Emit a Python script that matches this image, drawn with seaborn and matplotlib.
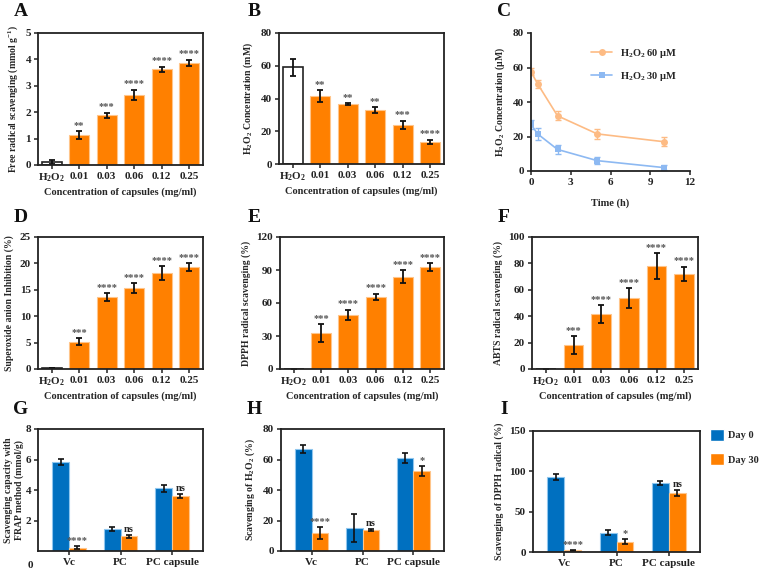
import numpy as np
import pandas as pd
import matplotlib
matplotlib.use("Agg")
import matplotlib.pyplot as plt
import seaborn as sns

sns.set_theme(style="white")
plt.rcParams['font.family'] = ['Liberation Serif', 'DejaVu Serif']
plt.rcParams['font.weight'] = 'bold'
plt.rcParams['axes.labelweight'] = 'bold'
plt.rcParams['mathtext.fontset'] = 'custom'
plt.rcParams['mathtext.rm'] = 'Liberation Serif:bold'
plt.rcParams['mathtext.it'] = 'Liberation Serif:bold'
plt.rcParams['mathtext.bf'] = 'Liberation Serif:bold'
plt.rcParams['mathtext.default'] = 'rm'

# ---------------- data ----------------
conc_labels = ["H$_2$O$_2$", "0.01", "0.03", "0.06", "0.12", "0.25"]

a_vals = [0.12, 1.13, 1.88, 2.65, 3.62, 3.87]
a_err = [0.08, 0.15, 0.10, 0.20, 0.10, 0.12]
a_sig = ["", "**", "***", "****", "****", "****"]

b_vals = [59.0, 41.5, 36.5, 33.0, 24.0, 13.5]
b_err = [5.0, 3.5, 0.7, 1.7, 2.5, 1.3]
b_sig = ["", "**", "**", "**", "***", "****"]

c_time = [0, 0.5, 2, 5, 10]
c_60 = [57.5, 50.5, 32.0, 21.5, 17.0]
c_60_err = [2.0, 2.5, 2.5, 3.0, 2.5]
c_30 = [27.0, 21.5, 12.5, 6.0, 2.0]
c_30_err = [2.5, 3.5, 2.5, 2.0, 1.5]

d_vals = [0.1, 5.2, 13.6, 15.3, 18.2, 19.3]
d_err = [0.0, 0.7, 0.8, 0.9, 1.3, 0.7]
d_sig = ["", "***", "****", "****", "****", "****"]

e_vals = [0.0, 33.0, 49.5, 65.5, 84.0, 92.5]
e_err = [0.0, 8.0, 4.5, 3.0, 6.0, 3.5]
e_sig = ["", "***", "****", "****", "****", "****"]

f_vals = [0.3, 18.0, 41.5, 53.5, 78.0, 72.0]
f_err = [0.0, 7.0, 7.0, 7.5, 10.0, 5.5]
f_sig = ["", "***", "****", "****", "****", "****"]

groups = ["Vc", "PC", "PC capsule"]
days = ["Day 0", "Day 30"]

g_day0 = [5.85, 1.45, 4.10]
g_day0_err = [0.20, 0.15, 0.20]
g_day30 = [0.22, 0.97, 3.62]
g_day30_err = [0.10, 0.10, 0.15]
g_sig = ["****", "ns", "ns"]

h_day0 = [67.0, 15.0, 61.0]
h_day0_err = [2.5, 9.0, 3.0]
h_day30 = [12.0, 14.0, 52.5]
h_day30_err = [4.0, 0.7, 3.5]
h_sig = ["****", "ns", "*"]

i_day0 = [93.0, 24.0, 85.0]
i_day0_err = [4.0, 3.0, 2.5]
i_day30 = [2.0, 13.0, 73.0]
i_day30_err = [1.0, 3.5, 3.5]
i_sig = ["****", "*", "ns"]

ORANGE = "#FF8000"
BLUE = "#0070C0"
W, H = 765, 572

fig = plt.figure(figsize=(W / 100, H / 100), dpi=100)


def make_ax(l, t, r, b):
    return fig.add_axes([l / W, 1 - b / H, (r - l) / W, (b - t) / H])


def style_ax(ax, box=True):
    for s in ax.spines.values():
        s.set_linewidth(1.3)
        s.set_color("#222222")
    if not box:
        ax.spines['top'].set_visible(False)
        ax.spines['right'].set_visible(False)
    ax.tick_params(axis='both', direction='out', length=3, width=1.1,
                   labelsize=8, colors="#222222", pad=2,
                   left=True, bottom=True)
    for lab in ax.get_xticklabels() + ax.get_yticklabels():
        lab.set_fontweight('bold')


def bar_panel(ax, vals, errs, sigs, ylabel, yticks, ylim):
    df = pd.DataFrame({"conc": conc_labels, "val": vals})
    pal = {c: ORANGE for c in conc_labels}
    pal[conc_labels[0]] = "white"
    sns.barplot(data=df, x="conc", y="val", hue="conc", palette=pal,
                legend=False, ax=ax, width=0.72, saturation=1)
    for i, p in enumerate(ax.patches):
        if i == 0:
            p.set_edgecolor("#222222")
            p.set_linewidth(1.2)
        else:
            p.set_edgecolor("#FFC58A")
            p.set_linewidth(0.8)
    x = np.arange(len(vals))
    ax.errorbar(x, vals, yerr=errs, fmt='none', ecolor='#111111',
                elinewidth=1.3, capsize=2.5, capthick=1.3)
    span = ylim[1] - ylim[0]
    for xi, v, e, s in zip(x, vals, errs, sigs):
        if s:
            ax.text(xi, v + e + span * 0.01, s, ha='center', va='bottom',
                    fontsize=7.5, color='#555555')
    ax.set_xlim(-0.5, len(vals) - 0.5)
    ax.set_ylim(*ylim)
    ax.set_yticks(yticks)
    ax.set_xlabel("Concentration of capsules (mg/ml)", fontsize=7.5,
                  labelpad=2)
    ax.set_ylabel(ylabel, fontsize=7, labelpad=4)
    style_ax(ax)


def group_panel(ax, d0, d0e, d30, d30e, sigs, ylabel, yticks, ylim,
                legend=False, ylabelpad=4):
    df = pd.DataFrame({
        "group": groups * 2,
        "day": [days[0]] * 3 + [days[1]] * 3,
        "val": d0 + d30,
    })
    sns.barplot(data=df, x="group", y="val", hue="day", hue_order=days,
                palette={days[0]: BLUE, days[1]: ORANGE}, ax=ax,
                width=0.65, saturation=1, legend=legend)
    edge = {0: "#8FC6EE", 1: "#FFC58A"}
    errs = [d0e, d30e]
    valsl = [d0, d30]
    span = ylim[1] - ylim[0]
    bar_conts = list(ax.containers)[:2]
    for k, cont in enumerate(bar_conts):
        xs = [b.get_x() + b.get_width() / 2 for b in cont.patches]
        for b in cont.patches:
            b.set_edgecolor(edge[k])
            b.set_linewidth(0.8)
        ax.errorbar(xs, valsl[k], yerr=errs[k], fmt='none', ecolor='#111111',
                    elinewidth=1.2, capsize=2.5, capthick=1.2)
        if k == 1:
            for xi, v, e, s in zip(xs, valsl[k], errs[k], sigs):
                ax.text(xi, v + e + span * 0.008, s, ha='center', va='bottom',
                        fontsize=7.5, color='#555555' if '*' in s else '#222222')
    ax.set_xlim(-0.6, 2.6)
    ax.set_ylim(*ylim)
    ax.set_yticks(yticks)
    ax.set_xlabel("")
    ax.set_ylabel(ylabel, fontsize=7, labelpad=ylabelpad)
    style_ax(ax)
    if legend:
        ax.legend(loc='upper left', bbox_to_anchor=(1.06, 1.02), frameon=False,
                  borderaxespad=0, borderpad=0,
                  handlelength=1.3, handleheight=1.5,
                  labelspacing=1.1, handletextpad=0.4,
                  prop={'weight': 'bold', 'size': 7.5})


# ---------------- A ----------------
axA = make_ax(38, 33, 203, 165)
bar_panel(axA, a_vals, a_err, a_sig, "Free radical scavenging (mmol g$^{-1}$)",
          [0, 1, 2, 3, 4, 5], (0, 5))

# ---------------- B ----------------
axB = make_ax(279, 33, 444, 164)
bar_panel(axB, b_vals, b_err, b_sig, "H$_2$O$_2$ Concentration (mM)",
          [0, 20, 40, 60, 80], (0, 80))

# ---------------- C ----------------
axC = make_ax(531, 33, 690, 171)
s60 = "H$_2$O$_2$ 60 μM"
s30 = "H$_2$O$_2$ 30 μM"
dfc = pd.DataFrame({
    "time": c_time * 2,
    "val": c_60 + c_30,
    "series": [s60] * 5 + [s30] * 5,
})
c_cols = {s60: "#FDBB84", s30: "#8DB9F2"}
sns.lineplot(data=dfc, x="time", y="val", hue="series", style="series",
             markers={s60: "o", s30: "s"},
             dashes=False, palette=c_cols, ax=axC, linewidth=1.2,
             markersize=5, markeredgewidth=0)
axC.errorbar(c_time, c_60, yerr=c_60_err, fmt='none', ecolor=c_cols[s60],
             elinewidth=1.0, capsize=2.5)
axC.errorbar(c_time, c_30, yerr=c_30_err, fmt='none', ecolor=c_cols[s30],
             elinewidth=1.0, capsize=2.5)
axC.set_xlim(0, 12)
axC.set_ylim(0, 80)
axC.set_xticks([0, 3, 6, 9, 12])
axC.set_yticks([0, 20, 40, 60, 80])
axC.set_xlabel("Time (h)", fontsize=7.5, labelpad=8)
axC.set_ylabel("H$_2$O$_2$ Concentration (μM)", fontsize=7, labelpad=4)
style_ax(axC, box=False)
axC.legend(loc='upper right', bbox_to_anchor=(0.98, 0.97), frameon=False,
           handlelength=2.0, labelspacing=1.0, prop={'weight': 'bold', 'size': 7.5})

# ---------------- D ----------------
axD = make_ax(38, 237, 203, 369)
bar_panel(axD, d_vals, d_err, d_sig, "Superoxide anion Inhibition (%)",
          [0, 5, 10, 15, 20, 25], (0, 25))

# ---------------- E ----------------
axE = make_ax(280, 237, 444, 369)
bar_panel(axE, e_vals, e_err, e_sig, "DPPH radical scavenging (%)",
          [0, 30, 60, 90, 120], (0, 120))

# ---------------- F ----------------
axF = make_ax(532, 237, 698, 369)
bar_panel(axF, f_vals, f_err, f_sig, "ABTS radical scavenging (%)",
          [0, 20, 40, 60, 80, 100], (0, 100))

# ---------------- G ----------------
axG = make_ax(38, 429, 203, 551)
group_panel(axG, g_day0, g_day0_err, g_day30, g_day30_err, g_sig,
            "Scavenging capacity with\nFRAP method (mmol/g)",
            [2, 4, 6, 8], (0, 8), ylabelpad=1)
fig.text(30 / W, 1 - 565 / H, "0", fontsize=8, fontweight='bold',
         ha='center', va='center', color="#222222")

# ---------------- H ----------------
axH = make_ax(281, 429, 444, 551)
group_panel(axH, h_day0, h_day0_err, h_day30, h_day30_err, h_sig,
            "Scavenging of H$_2$O$_2$ (%)", [0, 20, 40, 60, 80], (0, 80))

# ---------------- I ----------------
axI = make_ax(533, 431, 700, 552)
group_panel(axI, i_day0, i_day0_err, i_day30, i_day30_err, i_sig,
            "Scavenging of DPPH radical (%)", [0, 50, 100, 150], (0, 150),
            legend=True)

# panel letters
for lab, x, y in [("A", 21, 11), ("B", 254, 11), ("C", 504, 11),
                  ("D", 21, 218), ("E", 254, 218), ("F", 504, 218),
                  ("G", 21, 410), ("H", 254, 410), ("I", 504, 410)]:
    fig.text(x / W, 1 - y / H, lab, fontsize=14, fontweight='bold',
             ha='center', va='center', color="#111111")

fig.savefig("out.png", dpi=100)
